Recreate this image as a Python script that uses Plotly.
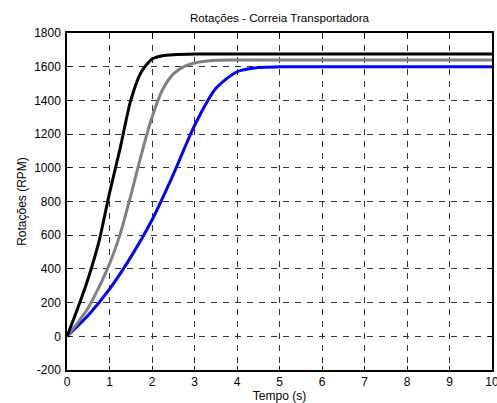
import plotly.graph_objects as go

# Time samples (s) and rotation values (RPM)
t_black = [0, 0.25, 0.5, 0.75, 1.0, 1.25, 1.5, 1.75, 2.0, 2.25, 2.5, 3.0, 4.0, 10]
rpm_black = [0, 165, 345, 560, 850, 1115, 1400, 1570, 1645, 1665, 1671, 1675, 1676, 1676]

t_gray = [0, 0.25, 0.5, 0.75, 1.0, 1.25, 1.5, 1.75, 2.0, 2.25, 2.5, 2.75, 3.0, 3.5, 4.0, 10]
rpm_gray = [0, 80, 170, 290, 430, 605, 835, 1080, 1300, 1465, 1556, 1600, 1622, 1638, 1640, 1640]

t_blue = [0, 0.5, 1.0, 1.5, 2.0, 2.5, 3.0, 3.5, 4.0, 4.5, 5.0, 6.0, 10]
rpm_blue = [0, 125, 280, 470, 690, 960, 1250, 1470, 1570, 1595, 1599, 1600, 1600]

x_ticks = list(range(0, 11))
y_ticks = list(range(-200, 1801, 200))
y_ticktext = [str(v) for v in y_ticks]  # plain hyphen for negatives

font = "Liberation Sans, Arial, sans-serif"

fig = go.Figure()
for t, v, c in [(t_blue, rpm_blue, "#0000FF"), (t_gray, rpm_gray, "#808080"), (t_black, rpm_black, "#000000")]:
    fig.add_trace(go.Scatter(x=t, y=v, mode="lines",
                             line=dict(color=c, width=3, shape="spline", smoothing=0.7),
                             showlegend=False, hoverinfo="skip"))

axis_common = dict(
    showline=True, linecolor="black", linewidth=1.5, mirror="ticks",
    ticks="inside", ticklen=4, tickcolor="black",
    showgrid=True, gridcolor="#333333", gridwidth=1, griddash="6px,6px",
    zeroline=False, tickfont=dict(family=font, size=12, color="black"),
    ticklabeloverflow="allow",
)

fig.update_layout(
    width=497, height=403,
    margin=dict(l=67, r=5, t=33, b=33),
    paper_bgcolor="white", plot_bgcolor="white",
    font=dict(family=font, size=12, color="black"),
    title=dict(text="Rotações - Correia Transportadora", x=0.5, xref="paper", xanchor="center",
               y=1 - 18 / 403, yref="container", yanchor="middle",
               font=dict(family=font, size=11.6, color="black")),
    xaxis=dict(range=[0, 10], tickvals=x_ticks, **axis_common,
               title=dict(text="Tempo (s)", standoff=7, font=dict(family=font, size=12)),
               automargin=False),
    yaxis=dict(range=[-200, 1800], tickvals=y_ticks, ticktext=y_ticktext, **axis_common,
               ticklabelstandoff=2,
               title=dict(text="Rotações (RPM)", standoff=5, font=dict(family=font, size=12)),
               automargin=False),
)

fig.write_html(
    "out.html",
    config={"displayModeBar": False},
    post_script="document.body.style.margin='0';document.body.style.overflow='hidden';",
)
